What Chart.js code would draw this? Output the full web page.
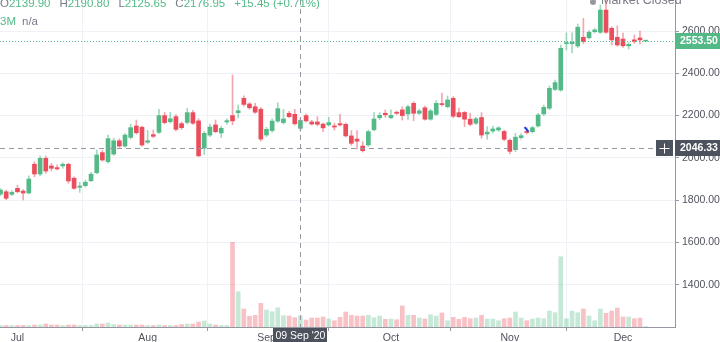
<!DOCTYPE html>
<html>
<head>
<meta charset="utf-8">
<script src="https://cdn.jsdelivr.net/npm/chart.js@4.4.0/dist/chart.umd.min.js"></script>
<style>
  html, body { margin: 0; padding: 0; background: #fff; overflow: hidden; }
</style>
</head>
<body>
<canvas id="chart" width="720" height="342"></canvas>
<script>
// --- Data (daily candles, 26 Jun - 07 Dec 2020) ---
const dates = [
  '26 Jun', '29 Jun', '30 Jun',
  '01 Jul', '02 Jul', '03 Jul', '06 Jul', '07 Jul', '08 Jul', '09 Jul', '10 Jul', '13 Jul', '14 Jul',
  '15 Jul', '16 Jul', '17 Jul', '20 Jul', '21 Jul', '22 Jul', '23 Jul', '24 Jul', '27 Jul', '28 Jul',
  '29 Jul', '30 Jul', '31 Jul',
  '03 Aug', '04 Aug', '05 Aug', '06 Aug', '07 Aug', '10 Aug', '11 Aug', '12 Aug', '13 Aug', '14 Aug',
  '17 Aug', '18 Aug', '19 Aug', '20 Aug', '21 Aug', '24 Aug', '25 Aug', '26 Aug', '27 Aug', '28 Aug',
  '31 Aug',
  '01 Sep', '02 Sep', '03 Sep', '04 Sep', '07 Sep', '08 Sep', '09 Sep', '10 Sep', '11 Sep', '14 Sep',
  '15 Sep', '16 Sep', '17 Sep', '18 Sep', '21 Sep', '22 Sep', '23 Sep', '24 Sep', '25 Sep', '28 Sep',
  '29 Sep', '30 Sep',
  '01 Oct', '05 Oct', '06 Oct', '07 Oct', '08 Oct', '09 Oct', '12 Oct', '13 Oct', '14 Oct', '15 Oct',
  '16 Oct', '19 Oct', '20 Oct', '21 Oct', '22 Oct', '23 Oct', '26 Oct', '27 Oct', '28 Oct', '29 Oct',
  '30 Oct',
  '02 Nov', '03 Nov', '04 Nov', '05 Nov', '06 Nov', '09 Nov', '10 Nov', '11 Nov', '12 Nov', '13 Nov',
  '14 Nov', '17 Nov', '18 Nov', '19 Nov', '20 Nov', '23 Nov', '24 Nov', '25 Nov', '26 Nov', '27 Nov',
  '01 Dec', '02 Dec', '03 Dec', '04 Dec', '07 Dec'
];

const open = [
  1829, 1840, 1828, 1856, 1843, 1834, 1970, 1924, 1998, 1962,
  1954, 1962, 1970, 1904, 1861, 1869, 1892, 1930, 2025, 1982,
  2018, 2081, 2056, 2097, 2151, 2145, 2074, 2110, 2121, 2200,
  2171, 2195, 2162, 2168, 2214, 2175, 2046, 2108, 2156, 2118,
  2170, 2200, 2214, 2282, 2255, 2242, 2230, 2108, 2129, 2174,
  2167, 2211, 2206, 2139.9, 2200, 2170, 2170, 2160, 2156, 2151,
  2162, 2159, 2104, 2089, 2056, 2061, 2133, 2190, 2211, 2190,
  2216, 2227, 2208, 2258, 2211, 2237, 2183, 2206, 2256, 2242,
  2282, 2214, 2215, 2183, 2164, 2191, 2113, 2127, 2132, 2125,
  2083, 2039, 2096, 2125, 2124, 2151, 2208, 2235, 2324, 2321,
  2540, 2540, 2529, 2570, 2568, 2597, 2594, 2699, 2613, 2570,
  2562, 2530, 2558, 2567, 2552
];
const high = [
  1855, 1848, 1845, 1871, 1850, 1915, 1982, 2009, 2009, 1974,
  1967, 1977, 1975, 1910, 1885, 1895, 1932, 2037, 2035, 2108,
  2093, 2090, 2115, 2159, 2179, 2150, 2130, 2132, 2230, 2215,
  2216, 2205, 2170, 2235, 2225, 2185, 2125, 2160, 2179, 2150,
  2185, 2392, 2250, 2293, 2262, 2258, 2238, 2145, 2185, 2261,
  2230, 2220, 2230, 2190.8, 2208, 2178, 2195, 2165, 2192, 2164,
  2206, 2165, 2129, 2129, 2077, 2132, 2214, 2214, 2227, 2227,
  2222, 2242, 2250, 2266, 2230, 2245, 2230, 2271, 2306, 2293,
  2290, 2235, 2220, 2211, 2192, 2214, 2148, 2150, 2148, 2132,
  2090, 2116, 2115, 2143, 2150, 2211, 2250, 2340, 2368, 2534,
  2591, 2591, 2633, 2660, 2602, 2612, 2723, 2760, 2620, 2624,
  2590, 2545, 2581, 2600, 2556
];
const low = [
  1822, 1802, 1822, 1835, 1801, 1830, 1911, 1915, 1927, 1938,
  1943, 1951, 1880, 1852, 1837, 1862, 1888, 1925, 1985, 1975,
  2012, 2050, 2050, 2090, 2112, 2055, 2068, 2095, 2115, 2160,
  2165, 2128, 2135, 2160, 2158, 2005, 2017, 2100, 2118, 2096,
  2160, 2156, 2189, 2245, 2230, 2210, 2080, 2100, 2122, 2168,
  2160, 2190, 2155, 2125.65, 2170, 2155, 2152, 2124, 2150, 2132,
  2150, 2098, 2060, 2041, 2028, 2055, 2128, 2180, 2192, 2185,
  2205, 2179, 2182, 2176, 2205, 2178, 2178, 2200, 2245, 2236,
  2190, 2190, 2148, 2152, 2158, 2093, 2088, 2118, 2125, 2082,
  2019, 2030, 2088, 2113, 2118, 2145, 2200, 2228, 2318, 2315,
  2510, 2496, 2522, 2540, 2562, 2590, 2588, 2588, 2534, 2528,
  2522, 2515, 2542, 2539, 2550
];
const close = [
  1848, 1809, 1837, 1840, 1834, 1900, 1924, 1998, 1938, 1951,
  1948, 1970, 1891, 1856, 1867, 1885, 1923, 2014, 1990, 2091,
  2081, 2056, 2108, 2143, 2119, 2061, 2081, 2102, 2200, 2167,
  2185, 2135, 2143, 2214, 2164, 2010, 2116, 2146, 2124, 2140,
  2176, 2175, 2223, 2253, 2237, 2216, 2089, 2135, 2174, 2233,
  2184, 2195, 2161.5, 2176.95, 2175, 2160, 2159, 2142, 2167, 2146,
  2156, 2104, 2069, 2079, 2034, 2124, 2184, 2201, 2204, 2201,
  2211, 2200, 2242, 2211, 2222, 2183, 2222, 2258, 2252, 2274,
  2197, 2195, 2183, 2159, 2185, 2108, 2122, 2137, 2142, 2088,
  2031, 2098, 2105, 2120, 2143, 2203, 2239, 2329, 2356, 2518,
  2545, 2547, 2618, 2550, 2594, 2605, 2699, 2594, 2558, 2534,
  2530, 2537, 2551, 2558, 2553.5
];
const volume = [
  15, 15, 15, 15, 15, 15, 20, 20, 30, 20,
  20, 15, 20, 20, 15, 15, 15, 30, 30, 40,
  25, 20, 20, 20, 20, 20, 15, 15, 20, 15,
  15, 15, 25, 30, 30, 50, 60, 30, 20, 15,
  15, 847, 353, 180, 107, 117, 237, 170, 153, 193,
  113, 110, 93, 110, 70, 90, 90, 100, 80, 63,
  97, 150, 117, 110, 110, 117, 93, 110, 77, 80,
  73, 210, 117, 117, 90, 80, 123, 110, 140, 63,
  97, 77, 97, 83, 90, 117, 80, 80, 63, 83,
  90, 150, 90, 63, 80, 90, 83, 160, 143, 703,
  83, 160, 143, 180, 110, 63, 180, 137, 160, 190,
  100, 100, 83, 90, 5
];

const monthNames = ['Jul', 'Aug', 'Sep', 'Oct', 'Nov', 'Dec'];
const priceTicks = [1400, 1600, 1800, 2000, 2200, 2400, 2600];

// crosshair / header values
const crossDate = '09 Sep';
const crossPrice = 2046.33;
const header = { O: '2139.90', H: '2190.80', L: '2125.65', C: '2176.95', chg: '+15.45 (+0.71%)' };

// small blue drawing near 06 Nov
const drawX = [92.6, 93.3];
const drawY = [2146, 2124];

// --- Helpers ---
const UP = '#53b987', DOWN = '#eb4d5c';
const FONT = "'Liberation Sans', Arial, sans-serif";
const isUp = i => close[i] >= open[i];
const crossIndex = dates.indexOf(crossDate);
const lastClose = close[close.length - 1];

const monthStarts = [];
dates.forEach((d, i) => {
  if (i > 0 && d.slice(3) !== dates[i - 1].slice(3)) monthStarts.push(i);
});

const overlay = {
  id: 'overlay',
  afterDatasetsDraw(chart) {
    const { ctx, chartArea: a, scales: { x, y } } = chart;
    ctx.save();
    ctx.lineWidth = 1;
    // last price line
    const py = Math.round(y.getPixelForValue(lastClose)) + 0.5;
    ctx.strokeStyle = UP;
    ctx.setLineDash([1, 2]);
    ctx.beginPath(); ctx.moveTo(a.left, py); ctx.lineTo(a.right, py); ctx.stroke();
    // crosshair
    ctx.strokeStyle = '#9598a1';
    ctx.setLineDash([5, 4]);
    const cx = Math.round(x.getPixelForValue(crossIndex)) + 0.5;
    const cy = Math.round(y.getPixelForValue(crossPrice)) + 0.5;
    ctx.beginPath(); ctx.moveTo(cx, a.top); ctx.lineTo(cx, a.bottom); ctx.stroke();
    ctx.beginPath(); ctx.moveTo(a.left, cy); ctx.lineTo(a.right - 20, cy); ctx.stroke();
    ctx.restore();
  },
  afterDraw(chart) {
    const { ctx, chartArea: a, scales: { x, y } } = chart;
    ctx.save();
    ctx.textBaseline = 'middle';

    // header row: O H L C
    ctx.font = '11.5px ' + FONT;
    let tx = 0;
    ['O', 'H', 'L', 'C'].forEach(k => {
      ctx.fillStyle = '#787b86';
      ctx.fillText(k, tx, 4);
      tx += ctx.measureText(k).width;
      ctx.fillStyle = UP;
      ctx.fillText(header[k], tx, 4);
      tx += ctx.measureText(header[k]).width + 9;
    });
    ctx.fillStyle = UP;
    ctx.fillText(header.chg, tx, 4);
    // second row
    ctx.fillText('3M', 0, 22);
    ctx.fillStyle = '#787b86';
    ctx.fillText('n/a', 22, 22);

    // market closed
    ctx.fillStyle = '#9598a1';
    ctx.beginPath(); ctx.arc(593, 2, 3, 0, Math.PI * 2); ctx.fill();
    ctx.fillStyle = '#787b86';
    ctx.font = '12.5px ' + FONT;
    ctx.fillText('Market Closed', 601, 1);

    // last price label
    ctx.font = 'bold 10.5px ' + FONT;
    const py = y.getPixelForValue(lastClose);
    ctx.fillStyle = UP;
    ctx.fillRect(a.right, Math.round(py) - 8, 45, 16);
    ctx.fillStyle = '#fff';
    ctx.fillText(lastClose.toFixed(2), a.right + 5, py + 0.5);

    // crosshair price label with "+" button
    const cy = y.getPixelForValue(crossPrice);
    ctx.fillStyle = '#4c525e';
    ctx.fillRect(a.right, Math.round(cy) - 8, 45, 16);
    ctx.fillRect(a.right - 19, Math.round(cy) - 8, 17, 16);
    ctx.fillStyle = '#fff';
    ctx.fillText(crossPrice.toFixed(2), a.right + 5, cy + 0.5);
    ctx.strokeStyle = '#fff';
    ctx.lineWidth = 1;
    const bx = a.right - 10.5, by = Math.round(cy) + 0.5;
    ctx.beginPath();
    ctx.moveTo(bx - 5, by); ctx.lineTo(bx + 5, by);
    ctx.moveTo(bx, by - 5); ctx.lineTo(bx, by + 5);
    ctx.stroke();

    // crosshair date label
    const cx = x.getPixelForValue(crossIndex);
    ctx.fillStyle = '#4c525e';
    ctx.fillRect(Math.round(cx) - 27, a.bottom + 1, 54, 15);
    ctx.fillStyle = '#fff';
    ctx.font = '10.5px ' + FONT;
    ctx.textAlign = 'center';
    ctx.fillText(crossDate + " '20", cx, a.bottom + 9);
    ctx.restore();
  }
};

new Chart(document.getElementById('chart'), {
  type: 'bar',
  data: {
    datasets: [
      {
        type: 'line',
        data: drawX.map((v, i) => ({ x: v, y: drawY[i] })),
        borderColor: '#1c3cf0',
        borderWidth: 2,
        pointRadius: 0,
        yAxisID: 'y',
        order: 0
      },
      {
        data: open.map((o, i) => ({ x: i, y: [o, close[i]] })),
        backgroundColor: open.map((o, i) => isUp(i) ? UP : DOWN),
        barThickness: 4,
        minBarLength: 1,
        grouped: false,
        yAxisID: 'y',
        order: 1
      },
      {
        data: low.map((l, i) => ({ x: i, y: [l, high[i]] })),
        backgroundColor: open.map((o, i) => isUp(i) ? 'rgba(83,185,135,0.55)' : 'rgba(235,77,92,0.5)'),
        barThickness: 1,
        grouped: false,
        yAxisID: 'y',
        order: 2
      },
      {
        data: volume.map((v, i) => ({ x: i, y: v })),
        backgroundColor: open.map((o, i) => isUp(i) ? 'rgba(83,185,135,0.33)' : 'rgba(235,77,92,0.35)'),
        barThickness: 4,
        grouped: false,
        yAxisID: 'vol',
        order: 3
      }
    ]
  },
  options: {
    responsive: false,
    devicePixelRatio: 1,
    animation: false,
    events: [],
    layout: { padding: 0 },
    plugins: { legend: { display: false }, tooltip: { enabled: false } },
    scales: {
      x: {
        type: 'linear',
        min: -0.09,
        max: 119.19,
        offset: false,
        grid: { color: '#eef1f6', tickLength: 4, tickColor: '#9598a1' },
        border: { color: '#9598a1' },
        afterBuildTicks: s => { s.ticks = monthStarts.map(v => ({ value: v })); },
        ticks: {
          autoSkip: false,
          maxRotation: 0,
          padding: 1,
          color: '#50535e',
          font: { size: 10.5, family: FONT },
          callback: (v, i) => monthNames[i]
        },
        afterFit: s => { s.height = 15; s.paddingLeft = 0; s.paddingRight = 0; }
      },
      y: {
        position: 'right',
        min: 1200.5,
        max: 2746.6,
        grid: { color: '#eef1f6', tickLength: 4, tickColor: '#9598a1' },
        border: { color: '#9598a1' },
        afterBuildTicks: s => { s.ticks = priceTicks.map(v => ({ value: v })); },
        ticks: {
          padding: 3,
          color: '#50535e',
          font: { size: 10.5, family: FONT },
          callback: v => Number(v).toFixed(2)
        },
        afterFit: s => { s.width = 45; s.paddingTop = 0; s.paddingBottom = 0; }
      },
      vol: {
        display: false,
        min: 0,
        max: 3270
      }
    }
  },
  plugins: [overlay]
});
</script>
</body>
</html>
